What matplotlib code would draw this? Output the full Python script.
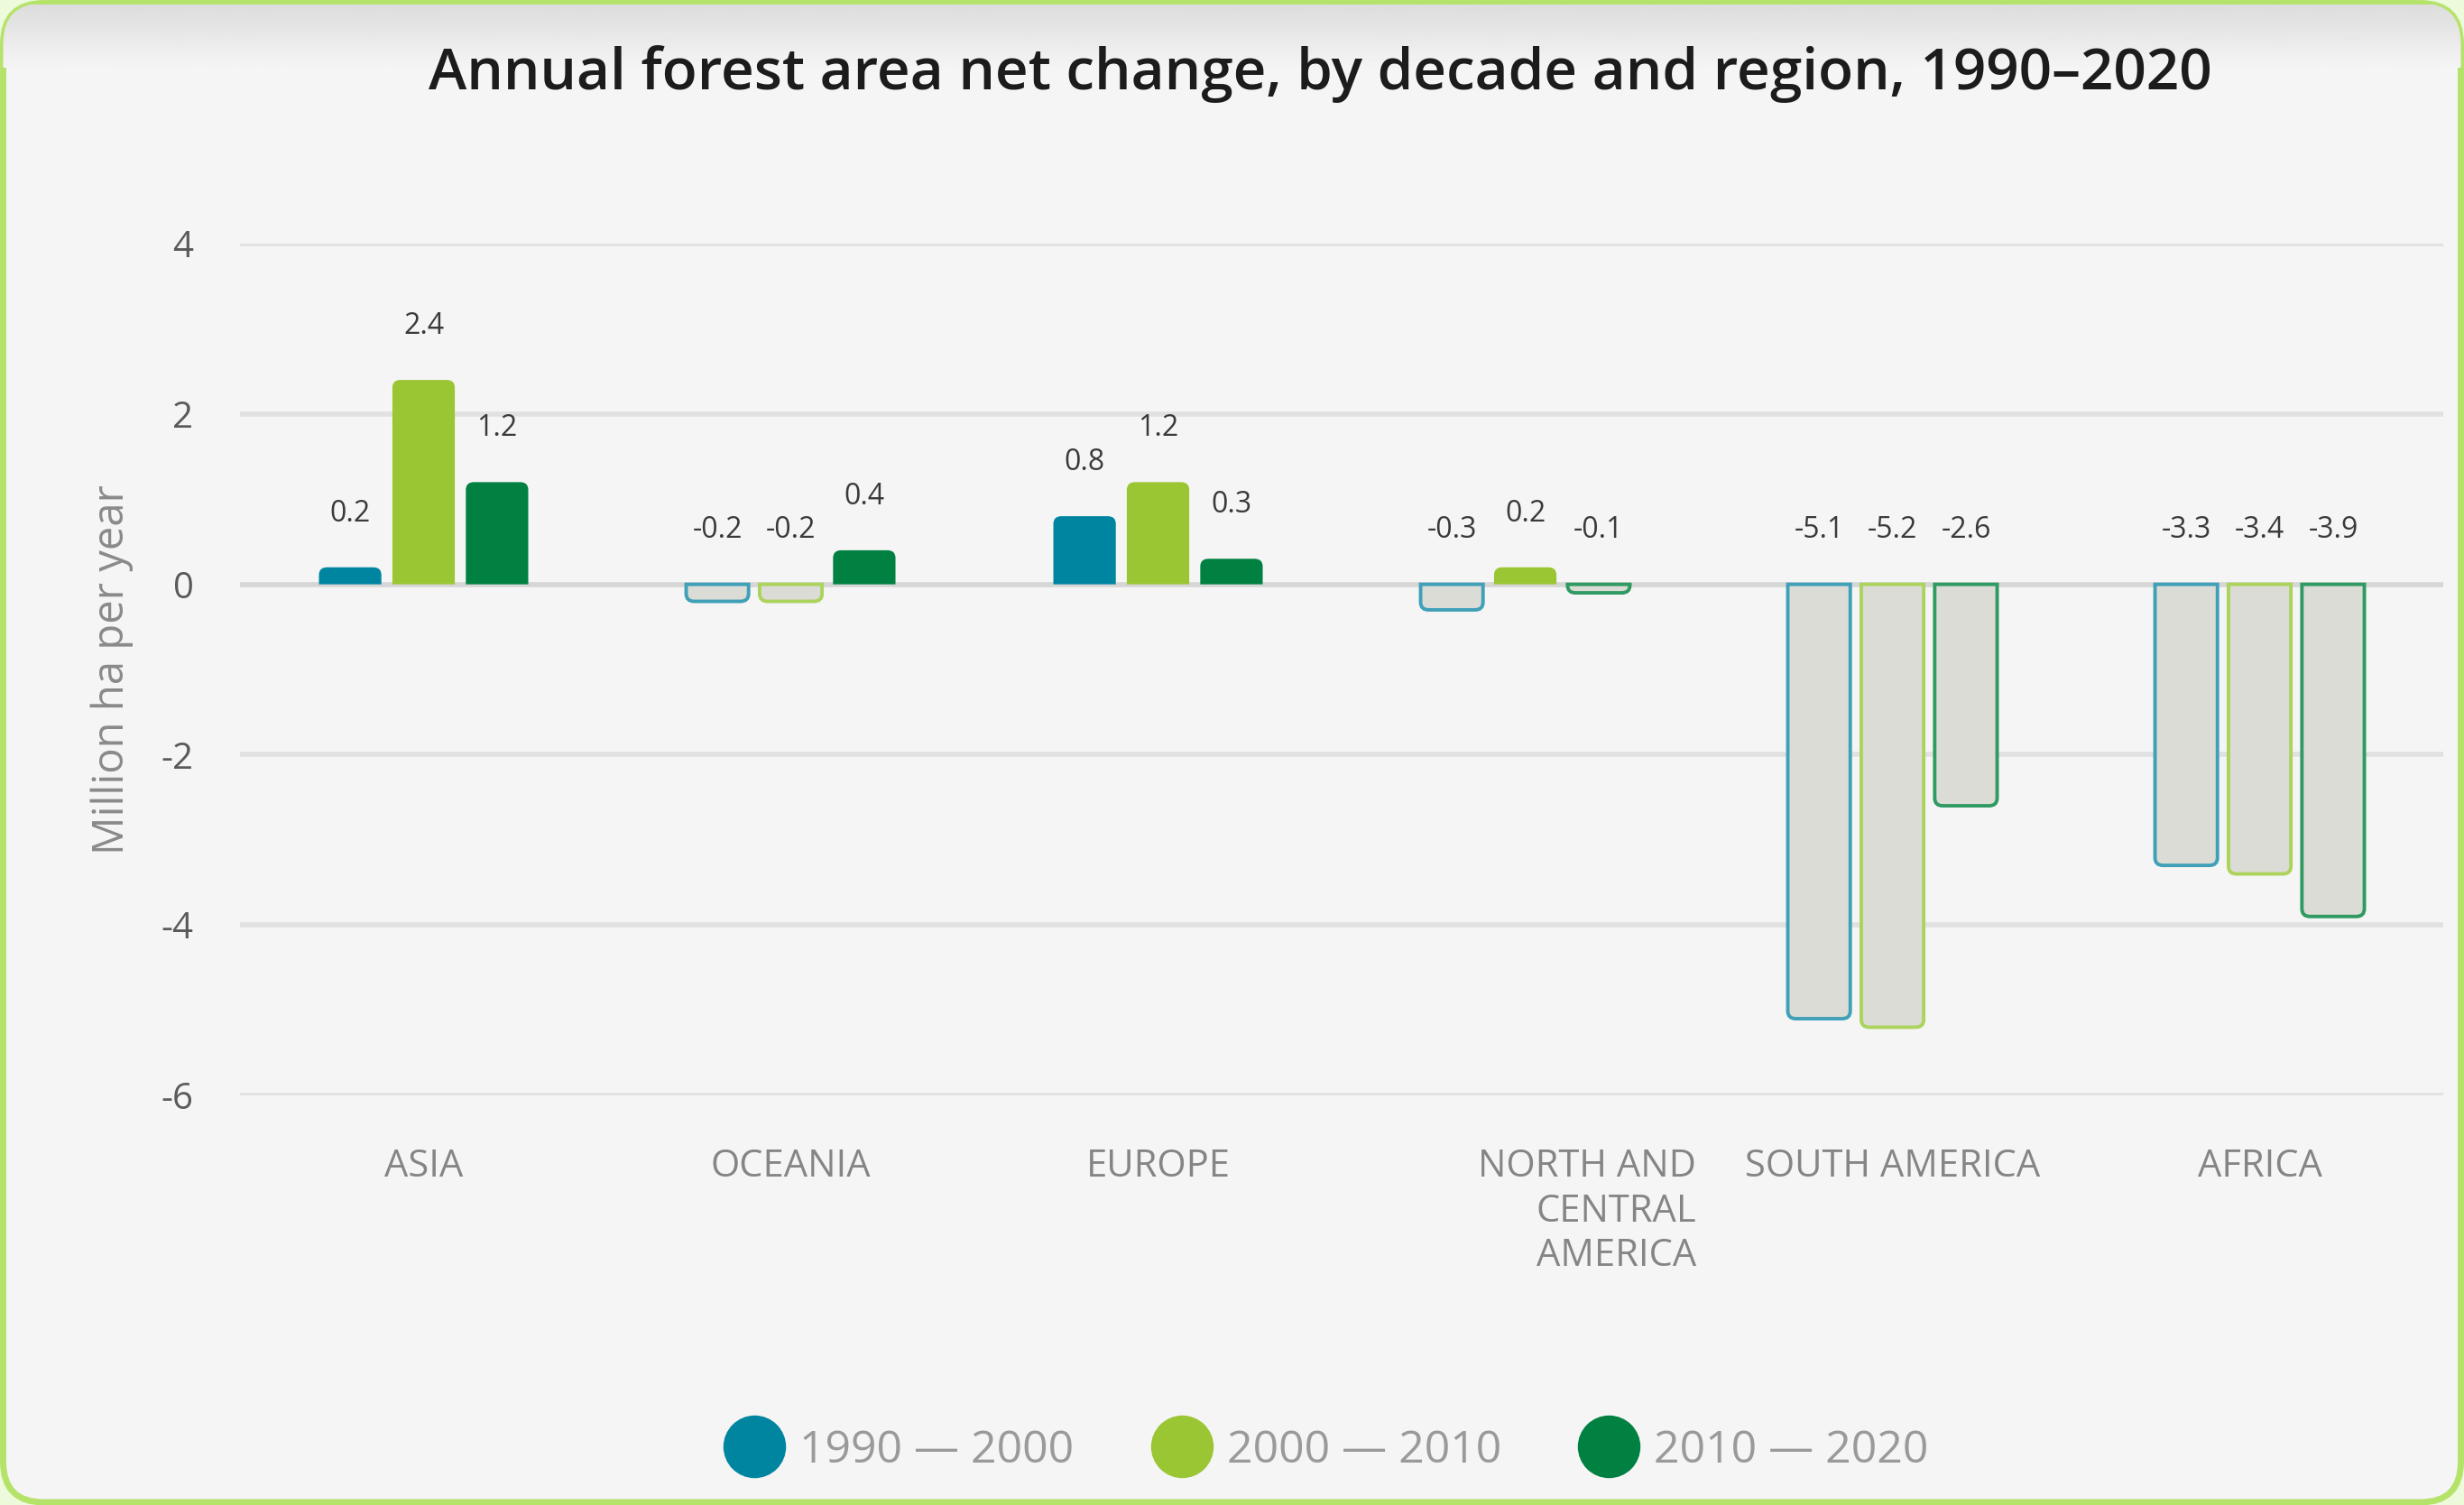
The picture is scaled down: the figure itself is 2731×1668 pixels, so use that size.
import numpy as np
import matplotlib
matplotlib.use('Agg')
from matplotlib import pyplot as plt
from matplotlib.patches import FancyBboxPatch, PathPatch
from matplotlib.path import Path
from matplotlib.lines import Line2D

plt.rcParams['font.family'] = ['Open Sans', 'DejaVu Sans']

# data
regions = ['ASIA', 'OCEANIA', 'EUROPE', 'NORTH AND\nCENTRAL\nAMERICA', 'SOUTH AMERICA', 'AFRICA']
decades = ['1990 \u2014 2000', '2000 \u2014 2010', '2010 \u2014 2020']
v_1990 = [0.2, -0.2, 0.8, -0.3, -5.1, -3.3]
v_2000 = [2.4, -0.2, 1.2, 0.2, -5.2, -3.4]
v_2010 = [1.2, 0.4, 0.3, -0.1, -2.6, -3.9]
yticks = [4, 2, 0, -2, -4, -6]

colors = ['#0085a1', '#9bc634', '#008142']
edge_colors = ['#3fa0b8', '#acd35c', '#2f9a62']
neg_fill = '#dcdcd6'

W, H = 27.31, 16.68
fig = plt.figure(figsize=(W, H), dpi=100)
fig.patch.set_facecolor('#eefadc')

# rounded card background with green border
card = FancyBboxPatch((0.035, 0.03), W - 0.07, H - 0.065,
                      boxstyle='round,pad=0,rounding_size=0.45',
                      transform=fig.dpi_scale_trans, facecolor='#f5f5f5',
                      edgecolor='#b5e36a', linewidth=5, zorder=-10)
fig.patches.append(card)

# light grey gradient strip at the top of the card
gax = fig.add_axes([0, 1 - 75 / 1668, 1, 75 / 1668 - 0.003], zorder=-5)
grad = np.linspace(0.865, 0.958, 64).reshape(-1, 1)
im = gax.imshow(grad, aspect='auto', cmap='gray', vmin=0, vmax=1,
                extent=[0, 1, 0, 1], origin='upper')
im.set_clip_path(card)
gax.axis('off')

ax = fig.add_axes([0.0974, 0.2722, 0.8942, 0.5659])
ax.set_facecolor('none')

x = np.arange(len(regions))
width = 0.17
offs = [-0.2, 0.0, 0.2]
series = [v_1990, v_2000, v_2010]

# radius of the rounded ends, in data units
rx, ry = 0.022, 0.09


def rounded_path(x0, w, h):
    x1 = x0 + w
    if h >= 0:
        yb, yt = 0, h
        r_y = min(ry, h)
        verts = [(x0, yb), (x0, yt - r_y), (x0, yt), (x0 + rx, yt),
                 (x1 - rx, yt), (x1, yt), (x1, yt - r_y), (x1, yb), (x0, yb)]
    else:
        yb, yt = h, 0
        r_y = min(ry, -h)
        verts = [(x0, yt), (x0, yb + r_y), (x0, yb), (x0 + rx, yb),
                 (x1 - rx, yb), (x1, yb), (x1, yb + r_y), (x1, yt), (x0, yt)]
    codes = [Path.MOVETO, Path.LINETO, Path.CURVE3, Path.CURVE3,
             Path.LINETO, Path.CURVE3, Path.CURVE3, Path.LINETO, Path.CLOSEPOLY]
    return Path(verts, codes)


for vals, off, c, ec in zip(series, offs, colors, edge_colors):
    bars = ax.bar(x + off, vals, width=width, color=c)
    for rect, v in zip(bars, vals):
        rect.set_visible(False)
        p = rounded_path(rect.get_x(), rect.get_width(), rect.get_height())
        if v >= 0:
            pp = PathPatch(p, facecolor=c, edgecolor='none', zorder=3)
        else:
            pp = PathPatch(p, facecolor=neg_fill, edgecolor=ec, linewidth=2.8, zorder=3)
        ax.add_patch(pp)
        ax.annotate('%g' % v, (rect.get_x() + rect.get_width() / 2, max(v, 0)),
                    xytext=(0, 43), textcoords='offset points',
                    ha='center', va='center', fontsize=23, color='#3a3a3a')

ax.set_xlim(-0.5, 5.5)
ax.set_ylim(-6, 4)
ax.set_yticks(yticks)
ax.set_yticklabels([str(t) for t in yticks])
ax.tick_params(axis='y', length=0, pad=37, labelsize=29, labelcolor='#5a5a5a')
ax.set_xticks([])
for s in ax.spines.values():
    s.set_visible(False)
for t in yticks:
    ax.axhline(t, color='#d6d6d6' if t == 0 else '#e1e1e1', linewidth=4, zorder=1)

ax.set_ylabel('Million ha per year', fontsize=34, color='#8a8a8a', labelpad=22)

# category labels below the plot
for i, name in enumerate(regions):
    if '\n' in name:
        ax.text(i + 0.466, -0.062, name, transform=ax.get_xaxis_transform(),
                ha='right', va='top', multialignment='right', fontsize=30,
                color='#858585', linespacing=1.22)
    else:
        ax.text(i, -0.062, name, transform=ax.get_xaxis_transform(),
                ha='center', va='top', fontsize=30, color='#858585')

fig.text(0.5357, 0.951, 'Annual forest area net change, by decade and region, 1990\u20132020',
         ha='center', va='center', fontsize=46, color='#1c1c1c', fontweight='semibold')

handles = [Line2D([], [], linestyle='none', marker='o', markersize=50,
                  markerfacecolor=c, markeredgecolor='none') for c in colors]
leg = fig.legend(handles, decades, loc='center', bbox_to_anchor=(0.538, 0.036),
                 ncol=3, frameon=False, fontsize=36, handlelength=1.4,
                 handletextpad=0.3, columnspacing=1.68, labelcolor='#9a9a9a')

fig.savefig('out.png', dpi=100, facecolor=fig.get_facecolor())
